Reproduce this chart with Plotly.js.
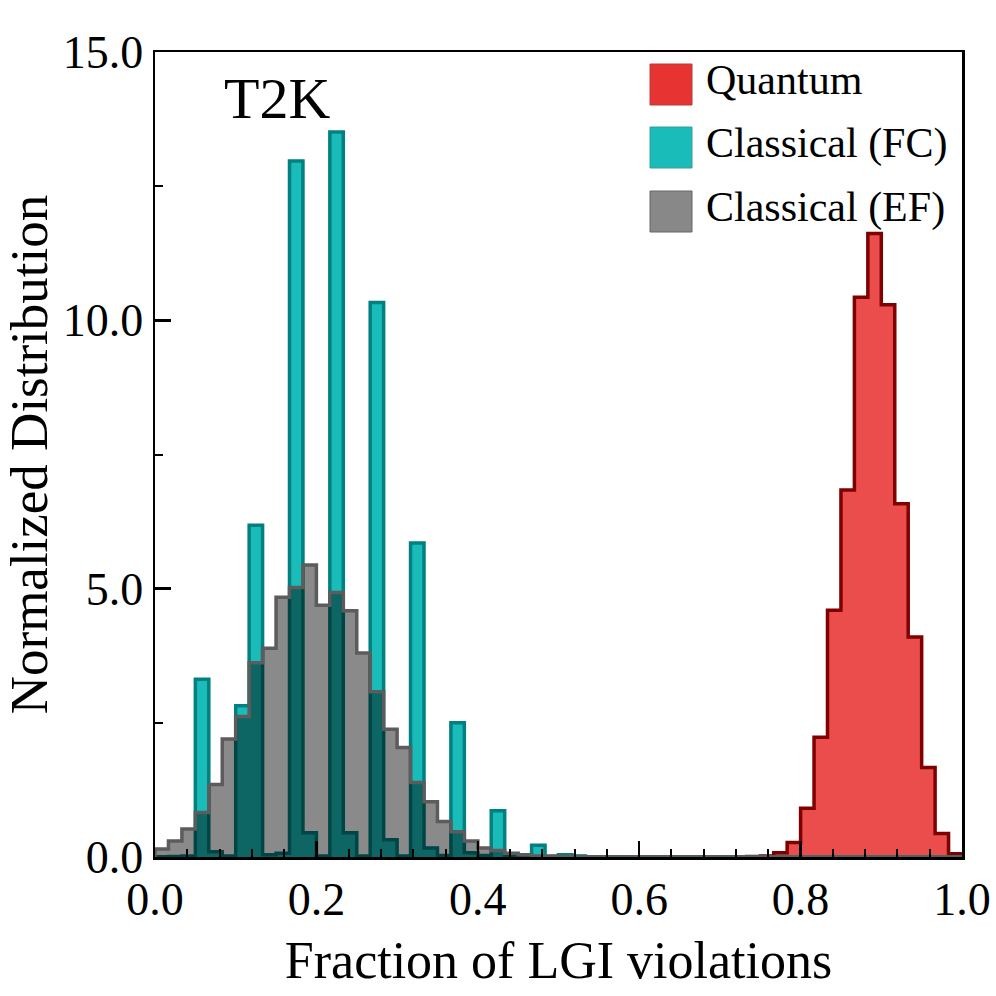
<!DOCTYPE html>
<html>
<head>
<meta charset="utf-8">
<script src="https://cdn.plot.ly/plotly-3.0.1.min.js"></script>
<style>
  html, body { margin: 0; padding: 0; background: #fff; }
</style>
</head>
<body>
<div id="plot" style="width:996px;height:996px;"></div>
<script>
// histogram heights, 60 equal bins over [0, 1]
var nBins = 60;

var quantum = [
  0, 0, 0, 0, 0, 0, 0, 0, 0, 0,
  0, 0, 0, 0, 0, 0, 0, 0, 0, 0,
  0, 0, 0, 0, 0, 0, 0, 0, 0, 0,
  0, 0, 0, 0, 0, 0, 0, 0, 0, 0,
  0, 0, 0, 0, 0.01, 0.02, 0.08, 0.27, 0.91, 2.23,
  4.6, 6.84, 10.43, 11.62, 10.29, 6.58, 4.1, 1.67, 0.44, 0.06
];

var classicalFC = [
  0, 0.01, 0.02, 3.31, 0.1, 0.02, 2.82, 6.18, 0.04, 0.07,
  12.97, 0.45, 0.02, 13.51, 0.45, 0.02, 10.33, 0.32, 0.02, 5.85,
  0.17, 0.03, 2.5, 0.08, 0.03, 0.86, 0.02, 0.02, 0.22, 0.01,
  0.04, 0.02, 0, 0, 0, 0, 0, 0, 0, 0,
  0, 0, 0, 0, 0, 0, 0, 0, 0, 0,
  0, 0, 0, 0, 0, 0, 0, 0, 0, 0
];

var classicalEF = [
  0.15, 0.3, 0.52, 0.83, 1.35, 2.2, 2.62, 3.62, 3.89, 4.84,
  5.02, 5.44, 4.69, 4.93, 4.59, 3.8, 3.08, 2.38, 2.04, 1.39,
  1.03, 0.66, 0.47, 0.3, 0.17, 0.12, 0.07, 0.04, 0.02, 0.02,
  0.01, 0.01, 0, 0, 0, 0, 0, 0, 0, 0,
  0, 0, 0, 0, 0, 0, 0, 0, 0, 0,
  0, 0, 0, 0, 0, 0, 0, 0, 0, 0
];

var seriesNames = ['Quantum', 'Classical (FC)', 'Classical (EF)'];

// step outline: start at (0,0), one point per bin, close at (1,0)
function stepTrace(vals, fill, line) {
  var xs = [0], ys = [0];
  for (var i = 0; i < vals.length; i++) {
    xs.push(i / nBins);
    ys.push(vals[i]);
  }
  xs.push(1);
  ys.push(0);
  return {
    x: xs, y: ys,
    type: 'scatter', mode: 'lines',
    line: {shape: 'hv', color: line, width: 3.5},
    fill: 'tozeroy', fillcolor: fill,
    hoverinfo: 'skip'
  };
}

var data = [
  stepTrace(quantum, 'rgba(232,51,51,0.88)', '#800000'),
  stepTrace(classicalFC, '#19bcb9', '#008080'),
  stepTrace(classicalEF, 'rgba(0,0,0,0.46)', '#5c5c5c')
];

// hand-made legend (square patches)
var legendFill = ['#e83333', '#19bcb9', '#888888'];
var legendEdge = ['#b04040', '#3a9c9a', '#666666'];
var rowTop = [64, 127, 191];   // px from top of figure
var shapes = [], annotations = [];
function py(p) { return (857 - p) / 805; }
function px(p) { return (p - 155) / 807; }
for (var k = 0; k < 3; k++) {
  shapes.push({
    type: 'rect', xref: 'paper', yref: 'paper',
    x0: px(650), x1: px(692), y0: py(rowTop[k] + 41), y1: py(rowTop[k]),
    fillcolor: legendFill[k], line: {color: legendEdge[k], width: 1}
  });
  annotations.push({
    xref: 'paper', yref: 'paper', x: px(704), y: py(rowTop[k] + 16),
    xanchor: 'left', yanchor: 'middle', showarrow: false,
    text: seriesNames[k], font: {size: 42, color: '#000'}
  });
}
annotations.push({
  xref: 'paper', yref: 'paper', x: px(277), y: py(98),
  xanchor: 'center', yanchor: 'middle', showarrow: false,
  text: 'T2K', font: {size: 58, color: '#000'}
});

var layout = {
  width: 996, height: 996,
  margin: {l: 155, r: 34, t: 52, b: 139},
  paper_bgcolor: '#fff', plot_bgcolor: '#fff',
  font: {family: 'Liberation Serif, Times New Roman, serif', color: '#000'},
  showlegend: false,
  xaxis: {
    range: [0, 1], tick0: 0, dtick: 0.2, tickformat: '.1f',
    ticks: 'inside', ticklen: 16, tickwidth: 2.5, tickcolor: '#000',
    showline: true, linewidth: 2.5, linecolor: '#000', mirror: true,
    showgrid: false, zeroline: false,
    tickfont: {size: 46},
    minor: {dtick: 0.04, ticks: 'inside', ticklen: 8, tickwidth: 2, tickcolor: '#000', showgrid: false},
    title: {text: 'Fraction of LGI violations', font: {size: 52}, standoff: 18}
  },
  yaxis: {
    range: [0, 15], tick0: 0, dtick: 5, tickformat: '.1f',
    ticks: 'inside', ticklen: 16, tickwidth: 2.5, tickcolor: '#000',
    showline: true, linewidth: 2.5, linecolor: '#000', mirror: true,
    showgrid: false, zeroline: false,
    tickfont: {size: 46},
    minor: {dtick: 2.5, ticks: 'inside', ticklen: 8, tickwidth: 2, tickcolor: '#000', showgrid: false},
    title: {text: 'Normalized Distribution', font: {size: 53}, standoff: 18}
  },
  shapes: shapes,
  annotations: annotations
};

Plotly.newPlot('plot', data, layout, {displayModeBar: false, staticPlot: true});
</script>
</body>
</html>
